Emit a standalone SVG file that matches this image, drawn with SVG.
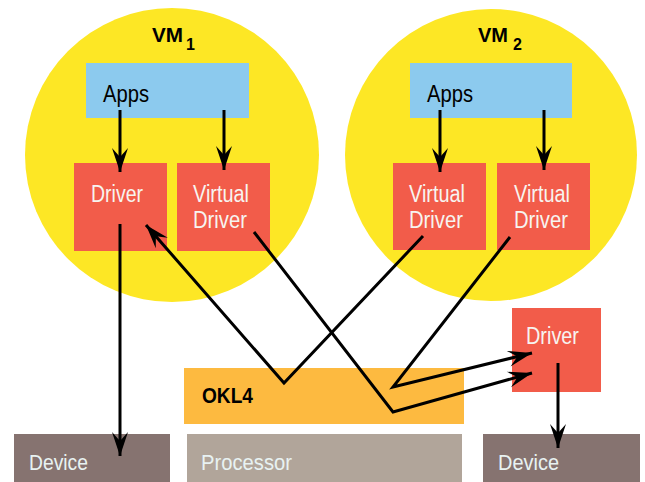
<svg xmlns="http://www.w3.org/2000/svg" width="645" height="482" viewBox="0 0 645 482">
<style>
.vm{fill:#FDE725}
.apps{fill:#8CCAEE}
.drv{fill:#F25C4A}
.lbl{font-family:"Liberation Sans",Arial,sans-serif;font-size:23px}
.w{fill:#F7F4F0}
.k{fill:#000}
.b{font-weight:bold}
.ln{fill:none;stroke:#000;stroke-width:3;stroke-linejoin:miter}
.ar{marker-end:url(#ah)}
</style>
<defs>
<marker id="ah" markerUnits="userSpaceOnUse" viewBox="-25 -9 26 18" refX="0" refY="0" markerWidth="26" markerHeight="18" orient="auto">
<path d="M0,0 L-24,-8 L-15,0 L-24,8 Z" fill="#000"/>
</marker>
</defs>
<rect width="645" height="482" fill="#fff"/>
<g id="vm1">
<circle class="vm" cx="172" cy="155" r="147"/>
<text class="lbl k b" x="152" y="42" textLength="31" lengthAdjust="spacingAndGlyphs" style="font-size:21px">VM</text>
<text class="lbl k b" x="186" y="50" style="font-size:16px">1</text>
</g>
<g id="vm2">
<circle class="vm" cx="491" cy="155" r="146"/>
<text class="lbl k b" x="478" y="42" textLength="30" lengthAdjust="spacingAndGlyphs" style="font-size:21px">VM</text>
<text class="lbl k b" x="513" y="50" style="font-size:16px">2</text>
</g>
<g id="apps1">
<rect class="apps" x="86" y="63" width="163" height="55"/>
<text class="lbl k" x="103" y="102" textLength="46" lengthAdjust="spacingAndGlyphs">Apps</text>
</g>
<g id="apps2">
<rect class="apps" x="410" y="63" width="162" height="55"/>
<text class="lbl k" x="427" y="102" textLength="46" lengthAdjust="spacingAndGlyphs">Apps</text>
</g>
<g id="driver1">
<rect class="drv" x="74" y="163" width="93" height="88"/>
<text class="lbl w" x="91" y="202" textLength="52" lengthAdjust="spacingAndGlyphs">Driver</text>
</g>
<g id="vdriver1">
<rect class="drv" x="177" y="163" width="93" height="88"/>
<text class="lbl w" x="193" y="202" textLength="56" lengthAdjust="spacingAndGlyphs">Virtual</text>
<text class="lbl w" x="193" y="228" textLength="54" lengthAdjust="spacingAndGlyphs">Driver</text>
</g>
<g id="vdriver2a">
<rect class="drv" x="393" y="163" width="93" height="87"/>
<text class="lbl w" x="409" y="202" textLength="56" lengthAdjust="spacingAndGlyphs">Virtual</text>
<text class="lbl w" x="409" y="228" textLength="54" lengthAdjust="spacingAndGlyphs">Driver</text>
</g>
<g id="vdriver2b">
<rect class="drv" x="497" y="163" width="93" height="87"/>
<text class="lbl w" x="514" y="202" textLength="56" lengthAdjust="spacingAndGlyphs">Virtual</text>
<text class="lbl w" x="514" y="228" textLength="54" lengthAdjust="spacingAndGlyphs">Driver</text>
</g>
<g id="driver2">
<rect class="drv" x="512" y="308" width="89" height="84"/>
<text class="lbl w" x="526" y="344" textLength="53" lengthAdjust="spacingAndGlyphs">Driver</text>
</g>
<g id="okl4">
<rect x="184" y="368" width="280" height="56" fill="#FDBA40"/>
<text class="lbl k b" x="202" y="403" textLength="51" lengthAdjust="spacingAndGlyphs" style="font-size:22px">OKL4</text>
</g>
<g id="device1">
<rect x="14" y="434" width="156" height="48" fill="#867370"/>
<text class="lbl" x="29" y="470" fill="#E8F2F2" textLength="59" lengthAdjust="spacingAndGlyphs" style="font-size:22px">Device</text>
</g>
<g id="processor">
<rect x="187" y="434" width="275" height="48" fill="#B1A59A"/>
<text class="lbl" x="201" y="470" fill="#E8F2F2" textLength="91" lengthAdjust="spacingAndGlyphs" style="font-size:22px">Processor</text>
</g>
<g id="device2">
<rect x="483" y="434" width="157" height="48" fill="#867370"/>
<text class="lbl" x="498" y="470" fill="#E8F2F2" textLength="61" lengthAdjust="spacingAndGlyphs" style="font-size:22px">Device</text>
</g>
<g id="connectors">
<line class="ln ar" x1="120" y1="110" x2="120" y2="172"/>
<line class="ln ar" x1="224" y1="110" x2="224" y2="170"/>
<line class="ln ar" x1="440" y1="110" x2="440" y2="172"/>
<line class="ln ar" x1="544" y1="110" x2="544" y2="170"/>
<line class="ln ar" x1="120" y1="224" x2="120" y2="456"/>
<line class="ln ar" x1="558" y1="363" x2="558" y2="448"/>
<polyline class="ln ar" points="423,236 284,383 146,225"/>
<polyline class="ln ar" points="254,232 393,412 532,373"/>
<polyline class="ln ar" points="510,237 393,387 532,353"/>
</g>
</svg>
